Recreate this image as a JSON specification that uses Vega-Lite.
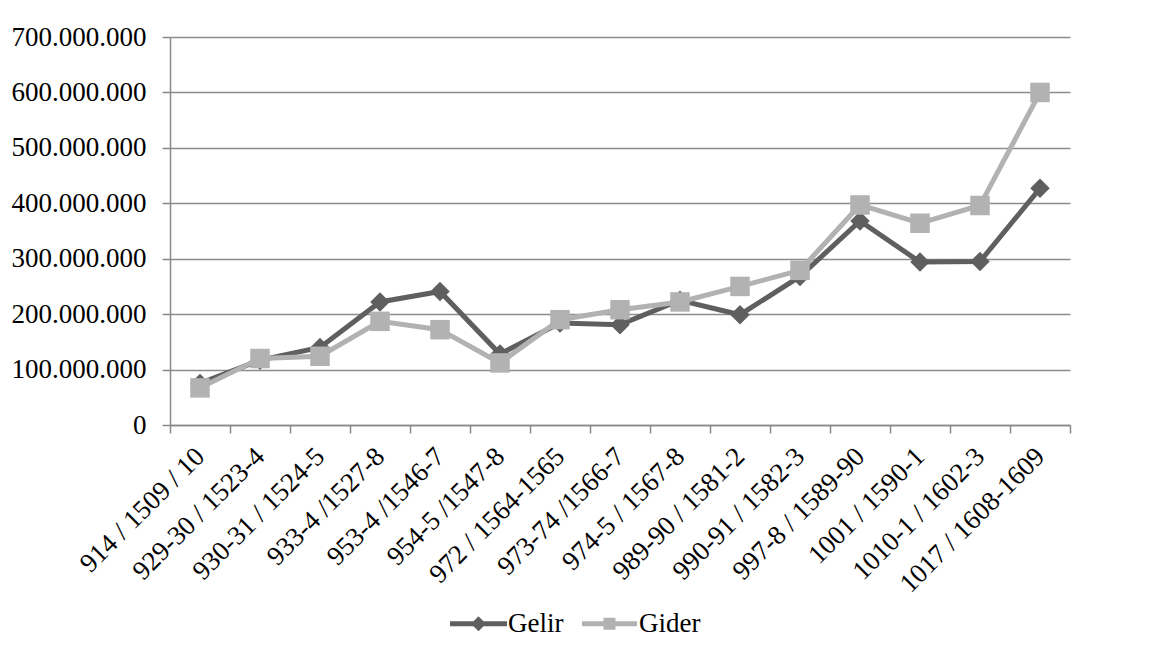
{
  "$schema": "https://vega.github.io/schema/vega-lite/v6.json",
  "width": 900,
  "height": 388,
  "autosize": {"type": "none"},
  "padding": {"left": 170, "top": 37, "right": 80, "bottom": 237},
  "background": "white",
  "config": {"view": {"stroke": null}, "font": "Liberation Serif"},
  "data": {
    "values": [
      {"period": "914 / 1509 / 10", "series": "Gelir", "value": 75000000},
      {"period": "929-30 / 1523-4", "series": "Gelir", "value": 117000000},
      {"period": "930-31 / 1524-5", "series": "Gelir", "value": 140000000},
      {"period": "933-4 /1527-8", "series": "Gelir", "value": 222000000},
      {"period": "953-4 /1546-7", "series": "Gelir", "value": 241000000},
      {"period": "954-5 /1547-8", "series": "Gelir", "value": 128000000},
      {"period": "972 / 1564-1565", "series": "Gelir", "value": 184000000},
      {"period": "973-74 /1566-7", "series": "Gelir", "value": 181000000},
      {"period": "974-5 / 1567-8", "series": "Gelir", "value": 225000000},
      {"period": "989-90 / 1581-2", "series": "Gelir", "value": 199000000},
      {"period": "990-91 / 1582-3", "series": "Gelir", "value": 268000000},
      {"period": "997-8 / 1589-90", "series": "Gelir", "value": 368000000},
      {"period": "1001 / 1590-1", "series": "Gelir", "value": 294000000},
      {"period": "1010-1 / 1602-3", "series": "Gelir", "value": 295000000},
      {"period": "1017 / 1608-1609", "series": "Gelir", "value": 427000000},
      {"period": "914 / 1509 / 10", "series": "Gider", "value": 67000000},
      {"period": "929-30 / 1523-4", "series": "Gider", "value": 120000000},
      {"period": "930-31 / 1524-5", "series": "Gider", "value": 124000000},
      {"period": "933-4 /1527-8", "series": "Gider", "value": 187000000},
      {"period": "953-4 /1546-7", "series": "Gider", "value": 172000000},
      {"period": "954-5 /1547-8", "series": "Gider", "value": 112000000},
      {"period": "972 / 1564-1565", "series": "Gider", "value": 190000000},
      {"period": "973-74 /1566-7", "series": "Gider", "value": 208000000},
      {"period": "974-5 / 1567-8", "series": "Gider", "value": 222000000},
      {"period": "989-90 / 1581-2", "series": "Gider", "value": 250000000},
      {"period": "990-91 / 1582-3", "series": "Gider", "value": 279000000},
      {"period": "997-8 / 1589-90", "series": "Gider", "value": 397000000},
      {"period": "1001 / 1590-1", "series": "Gider", "value": 364000000},
      {"period": "1010-1 / 1602-3", "series": "Gider", "value": 396000000},
      {"period": "1017 / 1608-1609", "series": "Gider", "value": 600000000}
    ]
  },
  "encoding": {
    "x": {
      "field": "period",
      "type": "ordinal",
      "sort": null,
      "bandPosition": 0.5,
      "scale": {"type": "band", "paddingInner": 0, "paddingOuter": 0},
      "axis": {
        "title": null,
        "tickBand": "extent",
        "labelAngle": -45,
        "labelAlign": "right",
        "labelBaseline": "middle",
        "labelPadding": 19,
        "labelOffset": 0,
        "labelLimit": 0,
        "labelFont": "Liberation Serif",
        "labelFontSize": 27,
        "labelColor": "black",
        "tickSize": 8,
        "tickColor": "#888888",
        "tickWidth": 1.5,
        "domainColor": "#888888",
        "domainWidth": 1.5,
        "grid": false
      }
    },
    "y": {
      "field": "value",
      "type": "quantitative",
      "scale": {"domain": [0, 700000000], "nice": false},
      "axis": {
        "title": null,
        "values": [0, 100000000, 200000000, 300000000, 400000000, 500000000, 600000000, 700000000],
        "labelExpr": "replace(replace(format(datum.value, ',d'), ',', '.'), ',', '.')",
        "labelFont": "Liberation Serif",
        "labelFontSize": 27,
        "labelColor": "black",
        "labelPadding": 16,
        "tickSize": 8,
        "tickColor": "#888888",
        "tickWidth": 1.5,
        "domainColor": "#888888",
        "domainWidth": 1.5,
        "grid": true,
        "gridColor": "#8c8c8c",
        "gridWidth": 1.5
      }
    },
    "color": {
      "field": "series",
      "type": "nominal",
      "scale": {"domain": ["Gelir", "Gider"], "range": ["#5f5f5f", "#b2b2b2"]},
      "legend": {
        "title": null,
        "orient": "none",
        "direction": "horizontal",
        "legendX": 295,
        "legendY": 573,
        "padding": 0,
        "symbolSize": 400,
        "labelOffset": 16,
        "columnPadding": 18,
        "labelFont": "Liberation Serif",
        "labelFontSize": 27,
        "labelColor": "black",
        "encode": {
          "symbols": {
            "update": {
              "shape": {"signal": "datum.value === 'Gelir' ? 'M-2.85,-0.25L2.85,-0.25L2.85,0.25L-2.85,0.25Z M-0.75,0L0,-0.75L0.75,0L0,0.75Z' : 'M-2.75,-0.25L2.75,-0.25L2.75,0.25L-2.75,0.25Z M-0.6,-0.6L0.6,-0.6L0.6,0.6L-0.6,0.6Z'"},
              "fill": {"signal": "datum.value === 'Gelir' ? '#5f5f5f' : '#b2b2b2'"},
              "fillOpacity": {"value": 1},
              "opacity": {"value": 1},
              "strokeWidth": {"value": 0}
            }
          }
        }
      }
    }
  },
  "layer": [
    {"mark": {"type": "line", "strokeWidth": 5}},
    {
      "transform": [{"filter": "datum.series === 'Gelir'"}],
      "mark": {"type": "point", "filled": true, "opacity": 1, "size": 380, "shape": "diamond"}
    },
    {
      "transform": [{"filter": "datum.series === 'Gider'"}],
      "mark": {"type": "point", "filled": true, "opacity": 1, "size": 380, "shape": "square"}
    }
  ]
}
